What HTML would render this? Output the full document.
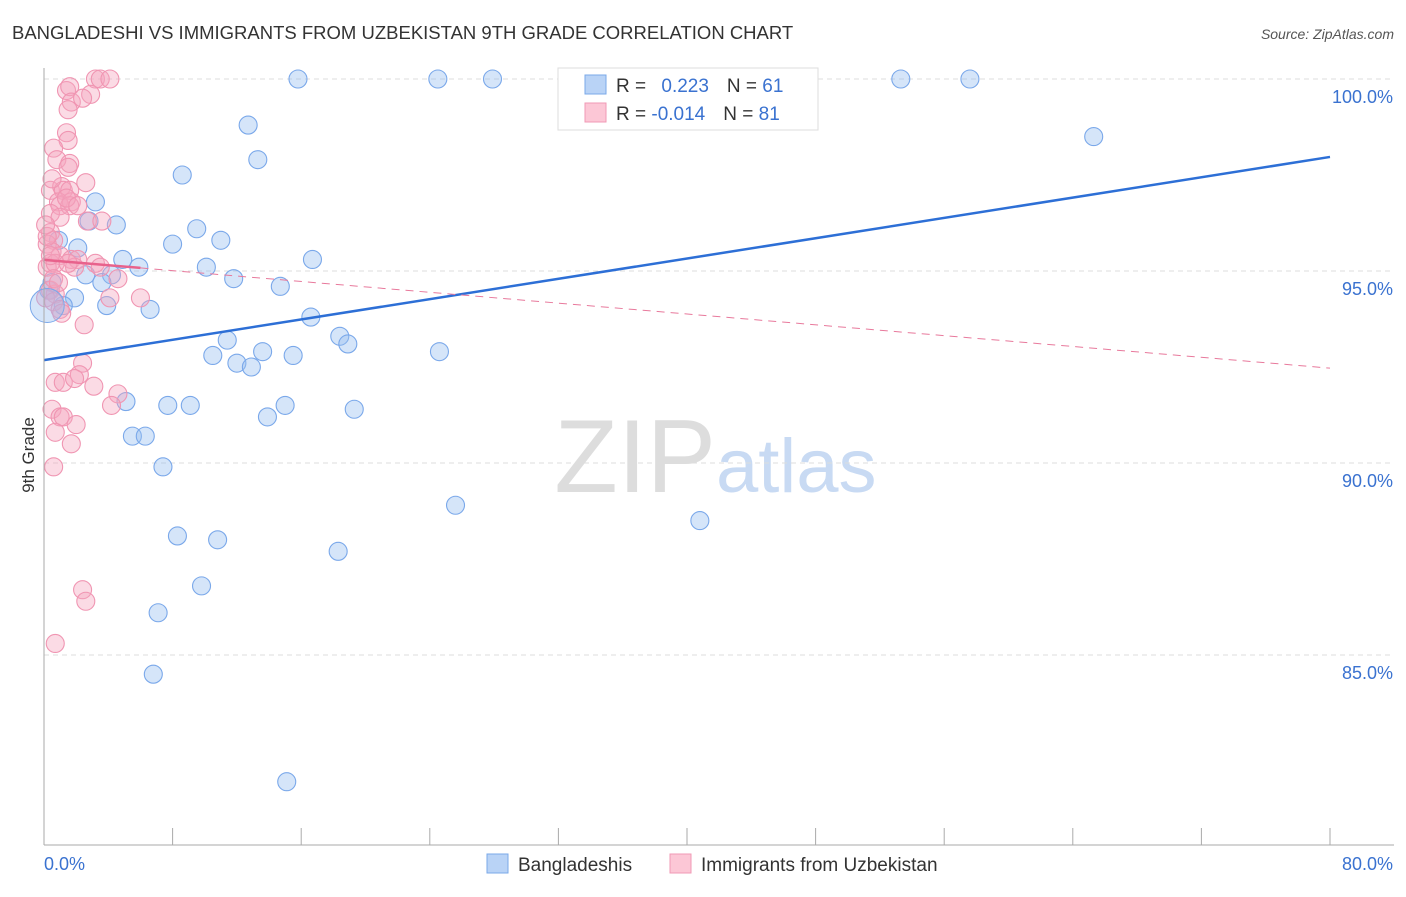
<!DOCTYPE html>
<html><head><meta charset="utf-8"><style>
body{margin:0;background:#fff;font-family:"Liberation Sans",sans-serif}
svg text{font-family:"Liberation Sans",sans-serif}
</style></head><body>
<svg id="c" width="1406" height="892">
<text x="12" y="39" font-size="18.5" fill="#333">BANGLADESHI VS IMMIGRANTS FROM UZBEKISTAN 9TH GRADE CORRELATION CHART</text>
<text x="1394" y="39" font-size="14" fill="#555" text-anchor="end" font-style="italic">Source: ZipAtlas.com</text>
<text x="716" y="492" font-size="104" fill="#ddd" text-anchor="end" font-family="Liberation Serif">ZIP</text>
<text x="716" y="492" font-size="76" fill="#c8daf3">atlas</text>
<g id="grid"></g><g id="marks"></g><g id="axes"></g>
<text transform="translate(34,455) rotate(-90)" font-size="17" fill="#333" text-anchor="middle">9th Grade</text>
<g>
<rect x="558" y="68" width="260" height="62" fill="#fff" stroke="#ddd"/>
<rect x="585" y="75" width="21" height="19" fill="#b9d3f6" stroke="#7aa8e8"/>
<rect x="585" y="103" width="21" height="19" fill="#fcc7d6" stroke="#f09ab5"/>
<text x="616" y="92" font-size="19" fill="#333">R = <tspan fill="#3a72d0" dx="10">0.223</tspan><tspan fill="#333" dx="18">N = </tspan><tspan fill="#3a72d0">61</tspan></text>
<text x="616" y="120" font-size="19" fill="#333">R = <tspan fill="#3a72d0">-0.014</tspan><tspan fill="#333" dx="18">N = </tspan><tspan fill="#3a72d0">81</tspan></text>
</g>
<g>
<rect x="487" y="854" width="21" height="19" fill="#b9d3f6" stroke="#7aa8e8"/>
<text x="518" y="871" font-size="19" fill="#333">Bangladeshis</text>
<rect x="670" y="854" width="21" height="19" fill="#fcc7d6" stroke="#f09ab5"/>
<text x="701" y="871" font-size="19" fill="#333">Immigrants from Uzbekistan</text>
</g>
</svg>
<script>
const yTicks=[100,95,90,85];
const yTickLabels=["100.0%","95.0%","90.0%","85.0%"];
const xTickLabels=["0.0%","80.0%"];
const blueX=[15.8,24.5,27.9,53.3,57.6,65.3,12.7,13.3,8.6,3.2,4.5,2.8,9.5,11.0,8.0,2.1,0.9,4.9,16.7,5.9,10.1,11.8,4.2,2.6,3.6,14.7,1.9,3.9,6.6,1.2,16.6,18.4,18.9,11.4,10.5,13.6,15.5,24.6,12.0,12.9,5.1,7.7,9.1,15.0,13.9,19.3,5.5,6.3,7.4,25.6,40.8,8.3,10.8,18.3,9.8,7.1,6.8,15.1,0.3,0.5];
const blueY=[100,100,100,100,100,98.5,98.8,97.9,97.5,96.8,96.2,96.3,96.1,95.8,95.7,95.6,95.8,95.3,95.3,95.1,95.1,94.8,94.9,94.9,94.7,94.6,94.3,94.1,94.0,94.1,93.8,93.3,93.1,93.2,92.8,92.9,92.8,92.9,92.6,92.5,91.6,91.5,91.5,91.5,91.2,91.4,90.7,90.7,89.9,88.9,88.5,88.1,88.0,87.7,86.8,86.1,84.5,81.7,94.5,94.7];
const pinkX=[3.2,3.5,4.1,1.4,1.6,2.9,1.7,2.4,1.5,1.4,1.5,0.6,0.8,1.6,1.5,2.6,0.4,1.1,1.2,1.6,0.9,1.0,1.7,1.6,1.4,2.1,0.4,1.0,2.7,3.6,0.4,0.6,0.2,0.5,1.0,0.4,1.7,2.1,3.2,0.2,0.7,1.9,1.5,4.6,0.4,0.7,0.1,0.6,1.0,4.1,6.0,2.5,2.4,2.2,0.7,1.2,1.9,3.1,4.6,4.2,0.5,1.0,1.2,2.0,1.7,0.7,0.6,2.4,2.6,0.7,1.1,0.6,0.9,0.2,0.5,3.5,0.1,0.4];
const pinkY=[100,100,100,99.7,99.8,99.6,99.4,99.5,99.2,98.6,98.4,98.2,97.9,97.8,97.7,97.3,97.1,97.2,97.1,97.1,96.8,96.7,96.8,96.7,96.9,96.7,96.5,96.4,96.3,96.3,96.0,95.8,95.7,95.5,95.4,95.2,95.3,95.3,95.2,95.1,95.2,95.1,95.2,94.8,94.5,94.4,94.3,94.2,94.0,94.3,94.3,93.6,92.6,92.3,92.1,92.1,92.2,92.0,91.8,91.5,91.4,91.2,91.2,91.0,90.5,90.8,89.9,86.7,86.4,85.3,93.9,94.8,94.7,95.9,97.4,95.1,96.2,95.4];
const blueTrendX=[0,80],blueTrendY=[92.68,97.97];
const pinkTrendX=[0,6,80],pinkTrendY=[95.29,95.08,92.47];
const NS="http://www.w3.org/2000/svg";
const X0=44,X1=1330,YT=79,PX5=192;
const xs=v=>X0+v/80*(X1-X0);
const ys=v=>YT+(100-v)/5*PX5;
function mk(t,a,p){const e=document.createElementNS(NS,t);for(const k in a)e.setAttribute(k,a[k]);p.appendChild(e);return e;}
const grid=document.getElementById('grid'),marks=document.getElementById('marks'),axes=document.getElementById('axes');
yTicks.forEach((t,i)=>{
 const l=mk('line',{x1:X0,x2:1394,y1:ys(t),y2:ys(t),stroke:'#ddd','stroke-dasharray':'5,4'},grid);
 
 
 const tx=mk('text',{x:1393,y:ys(t)+24,'font-size':18,fill:'#3a72d0','text-anchor':'end'},axes);
 tx.textContent=yTickLabels[i];
 
 
});
const ax=mk('line',{x1:X0,x2:X0,y1:68,y2:845,stroke:'#aaa'},axes);


const bx=mk('line',{x1:X0,x2:1394,y1:845,y2:845,stroke:'#aaa'},axes);


for(let i=1;i<=10;i++){const t=mk('line',{x1:xs(i*8),x2:xs(i*8),y1:828,y2:845,stroke:'#aaa'},axes);
 
 }
[[0,'start',44],[80,'end',1393]].forEach((d,i)=>{const t=mk('text',{x:d[2],y:870,'font-size':18,fill:'#3a72d0','text-anchor':d[1]},axes);t.textContent=xTickLabels[i];
 
 });
function pts(X,Y,fill,stroke,name){X.forEach((x,i)=>{const c=mk('circle',{cx:xs(x),cy:ys(Y[i]),r:9,fill:fill,stroke:stroke,'stroke-width':1.1},marks);
 
 });}
pts(blueX,blueY,'rgba(150,190,240,0.4)','#7aa8ea','bangladeshi-point');
pts(pinkX,pinkY,'rgba(246,165,190,0.4)','#f095b2','uzbekistan-point');
const big=mk('circle',{cx:xs(0.2),cy:ys(94.1),r:17,fill:'rgba(150,190,240,0.4)',stroke:'#7aa8ea'},marks);


const bt=mk('line',{x1:xs(blueTrendX[0]),y1:ys(blueTrendY[0]),x2:xs(blueTrendX[1]),y2:ys(blueTrendY[1]),stroke:'#2d6fd6','stroke-width':2.5},marks);


const pt1=mk('line',{x1:xs(pinkTrendX[0]),y1:ys(pinkTrendY[0]),x2:xs(pinkTrendX[1]),y2:ys(pinkTrendY[1]),stroke:'#e8628c','stroke-width':2.5},marks);


const pt2=mk('line',{x1:xs(pinkTrendX[1]),y1:ys(pinkTrendY[1]),x2:xs(pinkTrendX[2]),y2:ys(pinkTrendY[2]),stroke:'#e8799c','stroke-width':1,'stroke-dasharray':'8,6'},marks);


</script>
</body></html>
